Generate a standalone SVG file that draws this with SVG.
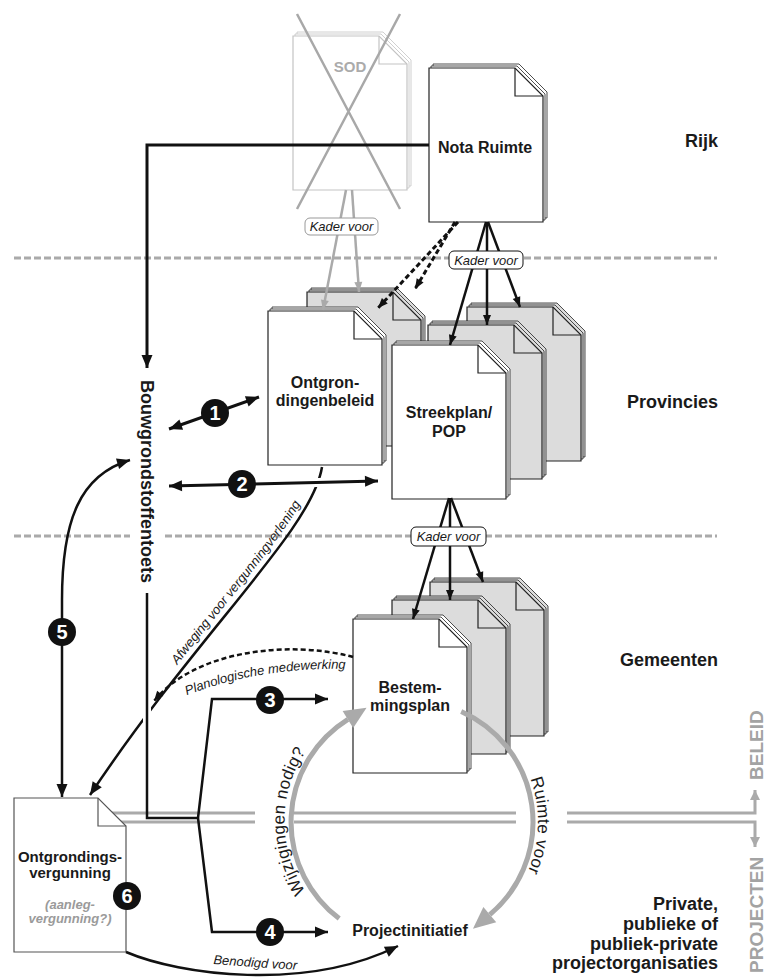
<svg xmlns="http://www.w3.org/2000/svg" xmlns:xlink="http://www.w3.org/1999/xlink" width="766" height="977" viewBox="0 0 766 977">
<style>
text{font-family:"Liberation Sans",Arial,Helvetica,sans-serif;}
.lbl{font-size:18px;font-weight:bold;fill:#1a1a1a;text-anchor:end;}
.doc{font-size:16px;font-weight:bold;fill:#1a1a1a;text-anchor:middle;}
.it{font-size:13px;font-style:italic;fill:#1a1a1a;}
.kv{font-size:13px;font-style:italic;fill:#1a1a1a;text-anchor:middle;}
.arc{font-size:17px;fill:#1a1a1a;}
.sep{stroke:#aaaaaa;stroke-width:3;stroke-dasharray:7 3;fill:none;}
.pw{fill:#ffffff;stroke:#222;stroke-width:1.2;}
.pg{fill:#dcdcdc;stroke:#222;stroke-width:1.2;}
.ps{fill:#ffffff;stroke:#c4c4c4;stroke-width:1.2;}
.ln{fill:none;stroke:#111;stroke-linejoin:miter;}
.halo{fill:none;stroke:#fff;}
.gl{fill:none;stroke:#aaaaaa;}
.num{font-size:20px;font-weight:bold;fill:#fff;text-anchor:middle;}
.side{font-size:19px;font-weight:bold;fill:#a3a3a3;}
</style>
<defs>
<path id="sheet" d="M0,0 H86 L114,28 V154 H0 Z"/>
<g id="stack">
<use xlink:href="#sheet" x="4" y="-4" stroke-width="0.8"/>
<use xlink:href="#sheet" x="2" y="-2" stroke-width="0.8"/>
<use xlink:href="#sheet"/>
<path d="M86,0 V28 H114" fill="none"/>
</g>
<marker id="ab" markerUnits="userSpaceOnUse" markerWidth="14" markerHeight="12" refX="13" refY="6" orient="auto-start-reverse" overflow="visible"><path d="M0,0.5 L13,6 L0,11.5 Z" fill="#111"/></marker>
<marker id="as" markerUnits="userSpaceOnUse" markerWidth="11" markerHeight="9" refX="10" refY="4.5" orient="auto-start-reverse" overflow="visible"><path d="M0,0.5 L10,4.5 L0,8.5 Z" fill="#111"/></marker>
<marker id="ags" markerUnits="userSpaceOnUse" markerWidth="11" markerHeight="9" refX="10" refY="4.5" orient="auto" overflow="visible"><path d="M0,0.5 L10,4.5 L0,8.5 Z" fill="#aaaaaa"/></marker>
<marker id="agm" markerUnits="userSpaceOnUse" markerWidth="11" markerHeight="10" refX="10" refY="5" orient="auto" overflow="visible"><path d="M0,0 L10,5 L0,10 Z" fill="#aaaaaa"/></marker>
<marker id="abig" markerUnits="userSpaceOnUse" markerWidth="22" markerHeight="20" refX="0" refY="10" orient="auto" overflow="visible"><path d="M0,0 L22,10 L0,20 Z" fill="#aaaaaa"/></marker>
<path id="tp1" d="M85,791 C195,626 307,526 317,463"/>
<path id="tp2" d="M185,696 Q260,666 355,669"/>
<path id="tp3" d="M305.5,891.2 A126,126 0 0 1 368.6,702.7"/>
<path id="tp4" d="M530.4,778.9 A126,126 0 0 1 508.5,903"/>
</defs>

<rect width="766" height="977" fill="#ffffff"/>

<g id="separators">
<line x1="14" y1="258" x2="717" y2="258" class="sep"/>
<path d="M14,536 H130" class="sep"/>
<path d="M165,536 H717" class="sep"/>
</g>

<g id="level-labels">
<text x="718" y="147" class="lbl">Rijk</text>
<text x="718" y="408" class="lbl">Provincies</text>
<text x="718" y="666" class="lbl">Gemeenten</text>
<text class="lbl"><tspan x="718" y="910">Private,</tspan><tspan x="718" y="930">publieke of</tspan><tspan x="718" y="950">publiek-private</tspan><tspan x="718" y="969">projectorganisaties</tspan></text>
</g>

<g id="divider" class="gl" stroke-width="3">
<path d="M108,813 H255 M294,813 H516 M108,822 H255 M294,822 H516"/>
<path d="M567,813 H755 V790" marker-end="url(#agm)"/>
<path d="M567,822 H755 V847" marker-end="url(#agm)"/>
<text class="side" transform="translate(763,780) rotate(-90)" stroke="none">BELEID</text>
<text class="side" transform="translate(763,973) rotate(-90)" stroke="none">PROJECTEN</text>
</g>

<g id="sod">
<use xlink:href="#stack" x="293" y="36" class="ps"/>
<text x="350" y="72" font-size="15" font-weight="bold" fill="#ababab" text-anchor="middle">SOD</text>
<path d="M297,14 L400,209 M400,14 L297,209" stroke="#a8a8a8" stroke-width="2.5" fill="none"/>
</g>

<g id="nota-ruimte">
<use xlink:href="#stack" x="429" y="68" class="pw"/>
<text x="485" y="153" class="doc">Nota Ruimte</text>
</g>

<g id="ontgrondingenbeleid">
<use xlink:href="#stack" x="307" y="292" class="pg"/>
<use xlink:href="#stack" x="268" y="311" class="pw"/>
<text class="doc"><tspan x="325" y="388">Ontgron-</tspan><tspan x="325" y="406">dingenbeleid</tspan></text>
</g>

<g id="streekplan">
<use xlink:href="#stack" x="467" y="307" class="pg"/>
<use xlink:href="#stack" x="428" y="325" class="pg"/>
<use xlink:href="#stack" x="392" y="345" class="pw"/>
<text class="doc"><tspan x="449" y="418">Streekplan/</tspan><tspan x="449" y="437">POP</tspan></text>
</g>

<g id="bestemmingsplan">
<use xlink:href="#stack" x="430" y="582" class="pg"/>
<use xlink:href="#stack" x="392" y="600" class="pg"/>
<use xlink:href="#stack" x="353" y="619" class="pw"/>
<text class="doc"><tspan x="410" y="693">Bestem-</tspan><tspan x="410" y="711">mingsplan</tspan></text>
</g>

<g id="bouwgrondstoffentoets">
<text transform="translate(141,380) rotate(90)" font-size="18" font-weight="bold" fill="#1a1a1a">Bouwgrondstoffentoets</text>
</g>

<g id="ontgrondingsvergunning">
<path d="M14,798 H98 L126,826 V952 H14 Z" fill="#fff" stroke="#555" stroke-width="1.2"/>
<path d="M98,798 V826 H126" fill="none" stroke="#555" stroke-width="1.2"/>
<text font-size="15" font-weight="bold" fill="#1a1a1a" text-anchor="middle"><tspan x="70" y="862">Ontgrondings-</tspan><tspan x="70" y="878">vergunning</tspan></text>
<text font-size="13" font-weight="bold" font-style="italic" fill="#9a9a9a" text-anchor="middle"><tspan x="70" y="909">(aanleg-</tspan><tspan x="70" y="923">vergunning?)</tspan></text>
</g>

<g id="projectinitiatief">
<text x="410" y="936" class="doc">Projectinitiatief</text>
</g>

<g id="connectors">
<path d="M346,190 L323,310" class="gl" stroke-width="2.5" marker-end="url(#ags)"/>
<path d="M352,190 L359,292" class="gl" stroke-width="2.5" marker-end="url(#ags)"/>
<rect x="305" y="218" width="73" height="17" rx="5" fill="#fff" stroke="#999" stroke-width="1"/>
<text x="341.5" y="231" class="kv" fill="#333">Kader voor</text>

<path d="M429,145 H147 V368" class="ln" stroke-width="3" marker-end="url(#ab)"/>

<path d="M458,222 L378,308" class="ln" stroke-width="3" stroke-dasharray="5 3" marker-end="url(#as)"/>
<path d="M455,222 L415,289" class="ln" stroke-width="3" stroke-dasharray="5 3" marker-end="url(#as)"/>

<path d="M486,222 L450,345" class="ln" stroke-width="2.5" marker-end="url(#as)"/>
<path d="M487,222 L487,325" class="ln" stroke-width="2.5" marker-end="url(#as)"/>
<path d="M488,222 L520,307" class="ln" stroke-width="2.5" marker-end="url(#as)"/>
<rect x="449" y="251" width="74" height="18" rx="5" fill="#fff" stroke="#111" stroke-width="1"/>
<text x="486" y="264.5" class="kv">Kader voor</text>

<path d="M449,498 L413,619" class="ln" stroke-width="2.5" marker-end="url(#as)"/>
<path d="M450,498 L450,600" class="ln" stroke-width="2.5" marker-end="url(#as)"/>
<path d="M451,498 L483,582" class="ln" stroke-width="2.5" marker-end="url(#as)"/>
<rect x="411" y="527" width="75" height="19" rx="5" fill="#fff" stroke="#111" stroke-width="1"/>
<text x="448.5" y="541" class="kv">Kader voor</text>

<path d="M322,467 C312,530 200,630 90,795" class="ln" stroke-width="2.5" marker-end="url(#ab)"/>
<text class="it"><textPath xlink:href="#tp1" startOffset="156">Afweging voor vergunningverlening</textPath></text>

<path d="M353,657 C290,640 195,650 154,701" class="ln" stroke-width="2.5" stroke-dasharray="5 3" marker-end="url(#as)"/>
<text class="it"><textPath xlink:href="#tp2" startOffset="2">Planologische medewerking</textPath></text>

<path d="M147,593 V800" class="halo" stroke-width="8"/>
<path d="M147,593 V818 H198" class="ln" stroke-width="2.5"/>
<path d="M198,818 L212,699 H328" class="ln" stroke-width="2.5" marker-end="url(#ab)"/>
<path d="M198,818 L212,932 H328" class="ln" stroke-width="2.5" marker-end="url(#ab)"/>

<path d="M169,429 L259,397" class="ln" stroke-width="3" marker-start="url(#ab)" marker-end="url(#ab)"/>
<path d="M190,485.5 L360,481.4" class="halo" stroke-width="9"/>
<path d="M169,486 L378,481" class="ln" stroke-width="3" marker-start="url(#ab)" marker-end="url(#ab)"/>

<path d="M130,460 C80,475 62,520 62,600 V797" class="ln" stroke-width="2.5" marker-start="url(#ab)" marker-end="url(#ab)"/>

<path d="M126,952 C180,975 305,992 398,946" class="ln" stroke-width="2.5" marker-end="url(#ab)"/>
<text x="255" y="967" class="it" text-anchor="middle" transform="rotate(4 255 967)">Benodigd voor</text>

<path d="M339.2,918.6 A121,121 0 0 1 347.9,719.4" class="gl" stroke-width="5" marker-end="url(#abig)"/>
<path d="M461.2,711.5 A121,121 0 0 1 489.8,914.7" class="gl" stroke-width="5" marker-end="url(#abig)"/>
<text class="arc"><textPath xlink:href="#tp3" textLength="148">Wijzigingen nodig?</textPath></text>
<text class="arc"><textPath xlink:href="#tp4" textLength="95">Ruimte voor</textPath></text>

<g id="badges">
<circle cx="215" cy="413" r="14" fill="#111"/><text x="215" y="420" class="num">1</text>
<circle cx="242" cy="484" r="14" fill="#111"/><text x="242" y="491" class="num">2</text>
<circle cx="270" cy="700" r="14" fill="#111"/><text x="270" y="707" class="num">3</text>
<circle cx="270" cy="932" r="14" fill="#111"/><text x="270" y="939" class="num">4</text>
<circle cx="62" cy="632" r="14" fill="#111"/><text x="62" y="639" class="num">5</text>
<circle cx="127" cy="896" r="14" fill="#111"/><text x="127" y="903" class="num">6</text>
</g>
</g>
</svg>
